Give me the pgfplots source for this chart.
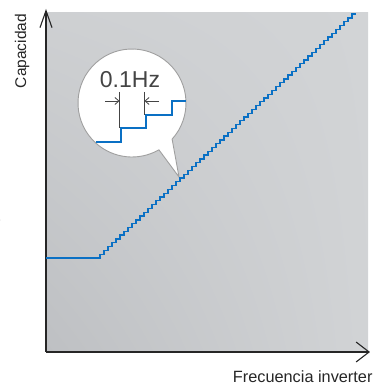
\documentclass[border=0pt]{standalone}
\usepackage{pgfplots}
\pgfplotsset{compat=1.18}
\usepackage{fontspec}
\setmainfont{Liberation Sans}
\usetikzlibrary{arrows.meta,shadings}
\definecolor{stepblue}{HTML}{0A70C4}
\definecolor{txt}{HTML}{262626}
\definecolor{dimgray}{HTML}{444444}
\definecolor{bglow}{HTML}{BEC0C3}
\definecolor{bghigh}{HTML}{D2D4D6}
\begin{document}
\begin{tikzpicture}[x=1pt,y=1pt]
\useasboundingbox (0,0) rectangle (377,386);
% background panel
\shade[lower left=bglow, upper right=bghigh, lower right=bghigh!97!bglow, upper left=bghigh!80!bglow]
  (46,34) rectangle (368,373);
% magnifier bubble
\draw[fill=white, draw=gray!75, line width=0.9pt]
  (132,283) ++(-42:54) arc[start angle=-42, end angle=299.9, radius=54] -- (179,209) -- cycle;

\begin{axis}[
  at={(46pt,34pt)}, anchor=south west,
  scale only axis, width=324pt, height=343pt,
  xmin=-13.5, xmax=67.5, ymin=-24.67, ymax=65.35,
  axis x line=bottom, axis y line=left,
  xtick=\empty, ytick=\empty,
  x axis line style={-{Straight Barb[length=13pt,width=20pt]}, line width=1.1pt, color=black!85},
  y axis line style={-{Straight Barb[length=17pt,width=12pt]}, line width=1.1pt, color=black!85},
  clip=false,
]
% frequency steps of 0.1 Hz
\addplot[const plot mark right, stepblue, line width=1.3pt] coordinates {
  (-13.5,0) (0,0) (1,1) (2,2) (3,3) (4,4) (5,5) (6,6) (7,7) (8,8) (9,9)
  (10,10) (11,11) (12,12) (13,13) (14,14) (15,15) (16,16) (17,17) (18,18) (19,19)
  (20,20) (21,21) (22,22) (23,23) (24,24) (25,25) (26,26) (27,27) (28,28) (29,29)
  (30,30) (31,31) (32,32) (33,33) (34,34) (35,35) (36,36) (37,37) (38,38) (39,39)
  (40,40) (41,41) (42,42) (43,43) (44,44) (45,45) (46,46) (47,47) (48,48) (49,49)
  (50,50) (51,51) (52,52) (53,53) (54,54) (55,55) (56,56) (57,57) (58,58) (59,59)
  (60,60) (61,61) (62,62) (63,63) (64,64)
};
% enlarged steps in the bubble
\addplot[const plot mark left, stepblue, line width=2pt] coordinates {
  (-1.1,30.45) (5.25,34.12) (11.6,37.53) (17.9,41.2) (21.5,41.2)
};
\end{axis}

% dimension marks
\draw[dimgray, line width=0.8pt] (119.5,294) -- (119.5,258);
\draw[dimgray, line width=0.8pt] (144.5,294) -- (144.5,271);
\draw[dimgray, line width=0.8pt, -{Straight Barb[length=4pt,width=7pt]}] (105,285) -- (119.5,285);
\draw[dimgray, line width=0.8pt, -{Straight Barb[length=4pt,width=7pt]}] (159,285) -- (144.5,285);
\node[dimgray, font=\fontsize{23}{26}\selectfont] at (130,306) {0.1Hz};

% axis titles
\node[txt, rotate=90, font=\fontsize{15.5}{18}\selectfont] at (22,335) {Capacidad};
\node[txt, anchor=east, font=\fontsize{16.3}{19}\selectfont] at (376,9) {Frecuencia inverter};
\node[gray, anchor=east, font=\fontsize{14}{16}\selectfont] at (4.5,165) {e};
\end{tikzpicture}
\end{document}
